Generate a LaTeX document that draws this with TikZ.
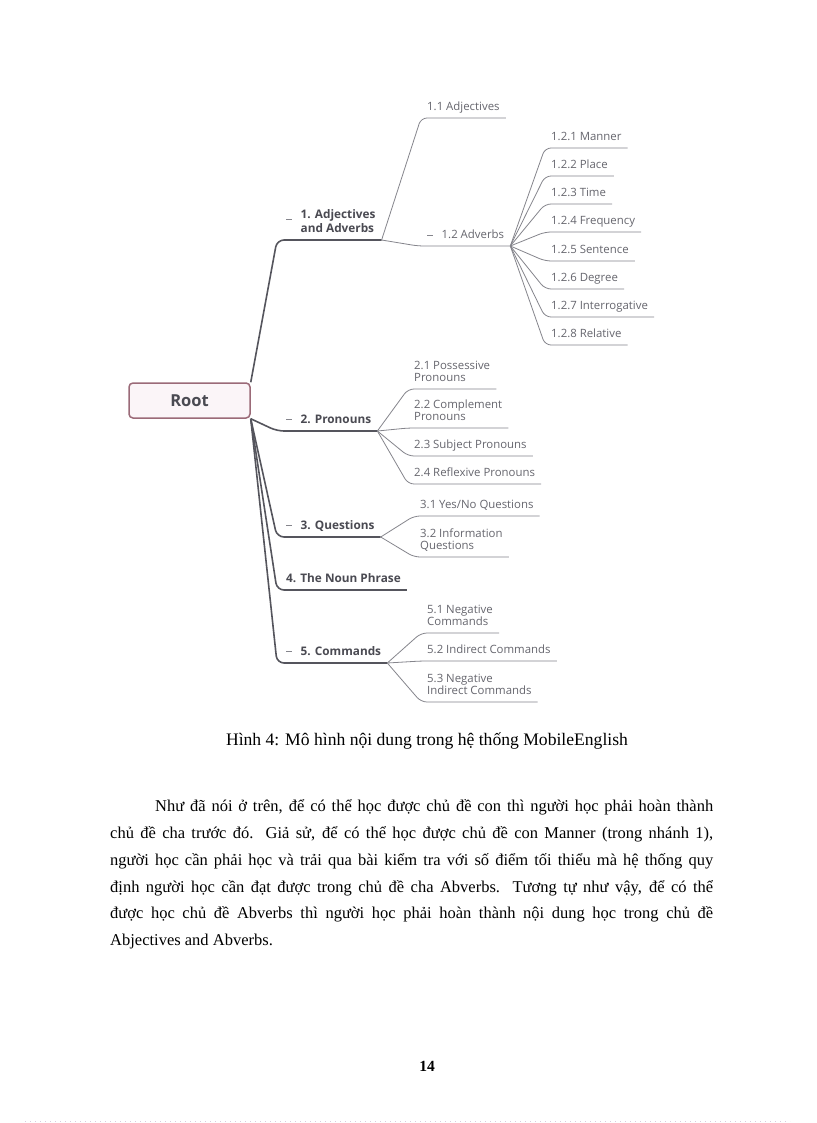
\documentclass[tikz,border=0pt]{standalone}
\usepackage{fontspec}
\setmainfont{Liberation Serif}
\newfontfamily\mapfont{Open Sans}
\usetikzlibrary{positioning}
\definecolor{rootline}{HTML}{9B6A78}
\definecolor{rootfill}{HTML}{FBF5F8}
\definecolor{branchgray}{HTML}{55555D}
\definecolor{topicgray}{HTML}{4A4A52}
\definecolor{twiggray}{HTML}{85858C}
\definecolor{subtext}{HTML}{66666E}
\definecolor{pagedot}{HTML}{D8CCE0}
\newcommand\collapsemark[1][3pt]{\hspace*{3pt}\textcolor{twiggray}{\rule[#1]{6pt}{0.8pt}}\hspace{8.5pt}}

\begin{document}
\begin{tikzpicture}[x=1pt, y=-1pt,
  mapnode/.style={font=\mapfont\fontsize{11.4}{12.5}\selectfont, inner xsep=6pt, inner ysep=3.5pt, anchor=south west, align=left, execute at end node=\strut},
  topic/.style={mapnode, font=\mapfont\bfseries\fontsize{11.8}{14}\selectfont, text=topicgray},
  subtopic/.style={mapnode, text=subtext},
  rootbox/.style={draw=rootline, fill=rootfill, line width=1.5pt, rounded corners=4pt, minimum width=121pt, minimum height=35pt, font=\mapfont\bfseries\fontsize{16.5}{18}\selectfont, text=topicgray},
  branch/.style={draw=branchgray, line width=1.6pt, rounded corners=7pt},
  twig/.style={draw=twiggray, line width=0.8pt, rounded corners=6pt},
  bodyline/.style={font=\fontsize{16.5}{20}\selectfont, inner sep=0pt, anchor=base west}]
\fill[white] (0,0) rectangle (816,1123);
\useasboundingbox (0,0) rectangle (816,1123);

% mind map
\node[rootbox] (root) at (189.5,400.5) {Root};
\node[topic] (adjadv) at (277,240) {\collapsemark[12pt]\begin{tabular}[b]{@{}l@{}}1. Adjectives\\and Adverbs\end{tabular}};
\node[topic] (pron) at (277,431) {\collapsemark 2. Pronouns};
\node[topic] (quest) at (277,537) {\collapsemark 3. Questions};
\node[topic] (noun) at (277,590) {\hspace*{3pt}4. The Noun Phrase};
\node[topic] (cmd) at (277,663) {\collapsemark 5. Commands};

\node[subtopic] (adj) at (421,118) {1.1 Adjectives};
\node[subtopic] (adv) at (418,246) {\collapsemark 1.2 Adverbs};
\node[subtopic] (manner) at (545,148) {1.2.1 Manner};
\node[subtopic] (place) at (545,176) {1.2.2 Place};
\node[subtopic] (time) at (545,204) {1.2.3 Time};
\node[subtopic] (freq) at (545,232) {1.2.4 Frequency};
\node[subtopic] (sentence) at (545,261) {1.2.5 Sentence};
\node[subtopic] (degree) at (545,289) {1.2.6 Degree};
\node[subtopic] (interrog) at (545,317) {1.2.7 Interrogative};
\node[subtopic] (relative) at (545,345) {1.2.8 Relative};

\node[subtopic] (possess) at (408,389) {2.1 Possessive\\Pronouns};
\node[subtopic] (complement) at (408,428) {2.2 Complement\\Pronouns};
\node[subtopic] (subject) at (408,456) {2.3 Subject Pronouns};
\node[subtopic] (reflexive) at (408,484) {2.4 Reflexive Pronouns};

\node[subtopic] (yesno) at (414,516) {3.1 Yes/No Questions};
\node[subtopic] (info) at (414,557) {3.2 Information\\Questions};

\node[subtopic] (negcmd) at (421,633) {5.1 Negative\\Commands};
\node[subtopic] (indcmd) at (421,661) {5.2 Indirect Commands};
\node[subtopic] (negind) at (421,702) {5.3 Negative\\Indirect Commands};

\draw[branch] (root.north east) -- (adjadv.south west) -- (adjadv.south east);
\draw[branch] (root.south east) -- (pron.south west) -- (pron.south east);
\draw[branch] (root.south east) -- (quest.south west) -- (quest.south east);
\draw[branch] (root.south east) -- (noun.south west) -- (noun.south east);
\draw[branch] (root.south east) -- (cmd.south west) -- (cmd.south east);

\draw[twig] (adjadv.south east) -- (adj.south west) -- (adj.south east);
\draw[twig] (adjadv.south east) -- (adv.south west) -- (adv.south east);
\draw[twig] (adv.south east) -- (manner.south west) -- (manner.south east);
\draw[twig] (adv.south east) -- (place.south west) -- (place.south east);
\draw[twig] (adv.south east) -- (time.south west) -- (time.south east);
\draw[twig] (adv.south east) -- (freq.south west) -- (freq.south east);
\draw[twig] (adv.south east) -- (sentence.south west) -- (sentence.south east);
\draw[twig] (adv.south east) -- (degree.south west) -- (degree.south east);
\draw[twig] (adv.south east) -- (interrog.south west) -- (interrog.south east);
\draw[twig] (adv.south east) -- (relative.south west) -- (relative.south east);

\draw[twig] (pron.south east) -- (possess.south west) -- (possess.south east);
\draw[twig] (pron.south east) -- (complement.south west) -- (complement.south east);
\draw[twig] (pron.south east) -- (subject.south west) -- (subject.south east);
\draw[twig] (pron.south east) -- (reflexive.south west) -- (reflexive.south east);

\draw[twig] (quest.south east) -- (yesno.south west) -- (yesno.south east);
\draw[twig] (quest.south east) -- (info.south west) -- (info.south east);

\draw[twig] (cmd.south east) -- (negcmd.south west) -- (negcmd.south east);
\draw[twig] (cmd.south east) -- (indcmd.south west) -- (indcmd.south east);
\draw[twig] (cmd.south east) -- (negind.south west) -- (negind.south east);

% caption and text
\node[font=\fontsize{17.6}{20}\selectfont] (caption) at (427,741) {Hình 4: Mô hình nội dung trong hệ thống MobileEnglish};
\node[bodyline] (line1) at (155,811) {\makebox[558pt][s]{Như đã nói ở trên, để có thể học được chủ đề con thì người học phải hoàn thành}};
\node[bodyline] (line2) at (110,838) {\makebox[603pt][s]{chủ đề cha trước đó. Giả sử, để có thể học được chủ đề con Manner (trong nhánh 1),}};
\node[bodyline] (line3) at (110,865) {\makebox[603pt][s]{người học cần phải học và trải qua bài kiểm tra với số điểm tối thiểu mà hệ thống quy}};
\node[bodyline] (line4) at (110,892) {\makebox[603pt][s]{định người học cần đạt được trong chủ đề cha Abverbs. Tương tự như vậy, để có thể}};
\node[bodyline] (line5) at (110,918) {\makebox[603pt][s]{được học chủ đề Abverbs thì người học phải hoàn thành nội dung học trong chủ đề}};
\node[bodyline] (line6) at (110,945) {Abjectives and Abverbs.};
\node[font=\bfseries\fontsize{15.5}{18}\selectfont] (pagenum) at (427,1066) {14};
\draw[pagedot, line width=0.8pt, dash pattern=on 1pt off 4pt] (25,1121) -- (790,1121);
\end{tikzpicture}
\end{document}
